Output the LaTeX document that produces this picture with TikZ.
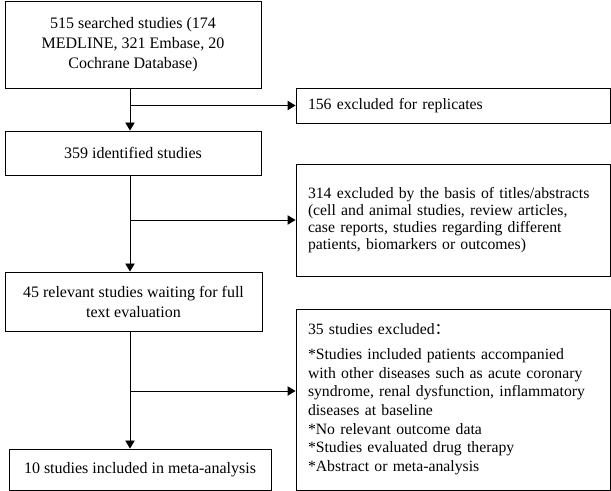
\documentclass[tikz,border=0pt]{standalone}
\usepackage{fontspec}
\setmainfont{Liberation Serif}
\newfontfamily\cjk{Noto Sans CJK SC}
\usetikzlibrary{arrows.meta}
\tikzstyle{Arrow} = [line width=0.7pt, -{Triangle[length=6pt,width=7pt]}]
\tikzstyle{Box} = [draw, line width=0.7pt, align=center, inner sep=0pt,
font=\fontsize{12}{15}\selectfont]
\tikzstyle{ExBox} = [draw, line width=0.7pt, align=left, inner xsep=9pt,
text width=217.5pt, minimum width=235.5pt, font=\fontsize{11.8}{12.75}\selectfont]

\begin{document}
\begin{tikzpicture}[x=0.75pt, y=-0.75pt]
    \useasboundingbox (0,0) rectangle (611,491);
    % left column
    \node [Box, minimum width=192pt, minimum height=65.25pt] (searched) at (133,44.5)
        {515 searched studies (174\\MEDLINE, 321 Embase, 20\\Cochrane Database)};
    \node [Box, minimum width=192pt, minimum height=33pt] (identified) at (133,153)
        {359 identified studies};
    \node [Box, minimum width=192.75pt, minimum height=44.25pt] (relevant) at (133.5,301.5)
        {45 relevant studies waiting for full\\text evaluation};
    \node [Box, minimum width=196.5pt, minimum height=30.75pt] (included) at (140,469.5)
        {10 studies included in meta-analysis};
    % right column
    \node [ExBox, minimum height=26.25pt] (replicates) at (453,105.5)
        {156 excluded for replicates};
    \node [ExBox, minimum height=84pt] (titles) at (453,220)
        {314 excluded by the basis of titles/abstracts\\
         (cell and animal studies, review articles,\\
         case reports, studies regarding different\\
         patients, biomarkers or outcomes)};
    \node [ExBox, minimum height=135.75pt, font=\fontsize{11.8}{14}\selectfont]
        (fulltext) at (453,399.5)
        {35 studies excluded{\cjk ：}\\[4.5pt]
         {*}Studies included patients accompanied\\
         with other diseases such as acute coronary\\
         syndrome, renal dysfunction, inflammatory\\
         diseases at baseline\\
         {*}No relevant outcome data\\
         {*}Studies evaluated drug therapy\\
         {*}Abstract or meta-analysis};

    \coordinate (trunk) at (130,0);
    \coordinate (split) at (130,391);

    \draw[Arrow] (searched.south -| trunk) -- (identified.north -| trunk);
    \draw[Arrow] (trunk |- replicates.west) -- (replicates.west);
    \draw[Arrow] (identified.south -| trunk) -- (relevant.north -| trunk);
    \draw[Arrow] (trunk |- titles.west) -- (titles.west);
    \draw[Arrow] (relevant.south -| trunk) -- (included.north -| trunk);
    \draw[Arrow] (split) -- (split -| fulltext.west);
\end{tikzpicture}
\end{document}
